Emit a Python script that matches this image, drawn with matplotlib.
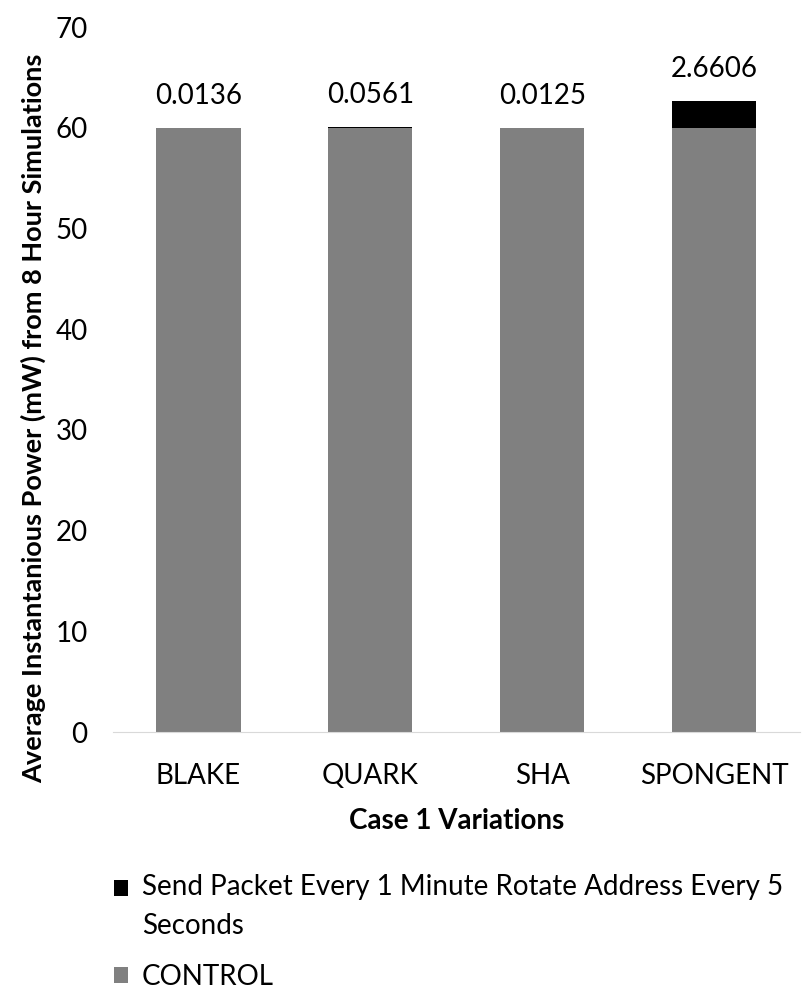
import matplotlib
matplotlib.use("Agg")
import matplotlib.pyplot as plt
from matplotlib.patches import Patch, Rectangle
from matplotlib.legend_handler import HandlerPatch

categories = ["BLAKE", "QUARK", "SHA", "SPONGENT"]
control = [60.0, 60.0, 60.0, 60.0]
send_packet = [0.0136, 0.0561, 0.0125, 2.6606]
labels = ["0.0136", "0.0561", "0.0125", "2.6606"]
yticks = [0, 10, 20, 30, 40, 50, 60, 70]

plt.rcParams['font.family'] = ['Lato', 'DejaVu Sans']
FS = 20

fig = plt.figure(figsize=(8.04, 9.9), dpi=100)
ax = fig.add_axes([0.14, 0.2606, 0.855, 0.712])

x = list(range(len(categories)))
ax.bar(x, control, width=0.49, color="#808080", zorder=2)
ax.bar(x, send_packet, bottom=control, width=0.49, color="#000000", zorder=2)

for xi, c, s, lab in zip(x, control, send_packet, labels):
    ax.text(xi, c + s + 1.9, lab, ha="center", va="bottom", fontsize=FS, color="#000000")

ax.set_ylim(0, 70)
ax.set_xlim(-0.5, 3.5)
ax.set_yticks(yticks)
ax.set_xticks(x)
ax.set_xticklabels(categories)
ax.tick_params(axis="both", length=0, labelsize=FS, colors="#000000")
ax.tick_params(axis="x", pad=22)
ax.tick_params(axis="y", pad=18)
for sp in ["top", "right", "left"]:
    ax.spines[sp].set_visible(False)
ax.spines["bottom"].set_color("#d9d9d9")

ax.set_ylabel("Average Instantanious Power (mW) from 8 Hour Simulations", fontsize=19.5, fontweight="bold")
ax.yaxis.set_label_coords(-0.097, 0.445)
ax.set_xlabel("Case 1 Variations", fontsize=FS, fontweight="bold", labelpad=14)


def raised_square(legend, orig_handle, xdescent, ydescent, width, height, fontsize):
    return Rectangle((-xdescent, -ydescent + 14), width, height)


handles = [Patch(facecolor="#000000"), Patch(facecolor="#808080")]
leg_labels = ["Send Packet Every 1 Minute Rotate Address Every 5\nSeconds", "CONTROL"]
fig.legend(handles, leg_labels, loc="upper left", bbox_to_anchor=(0.128, 0.128),
           frameon=False, fontsize=FS, handlelength=0.5, handleheight=0.5,
           handletextpad=0.5, labelspacing=0.9, borderaxespad=0,
           handler_map={handles[0]: HandlerPatch(patch_func=raised_square)})
for t in fig.legends[0].get_texts():
    t.set_linespacing(1.6)

fig.savefig("out.png", dpi=100)
